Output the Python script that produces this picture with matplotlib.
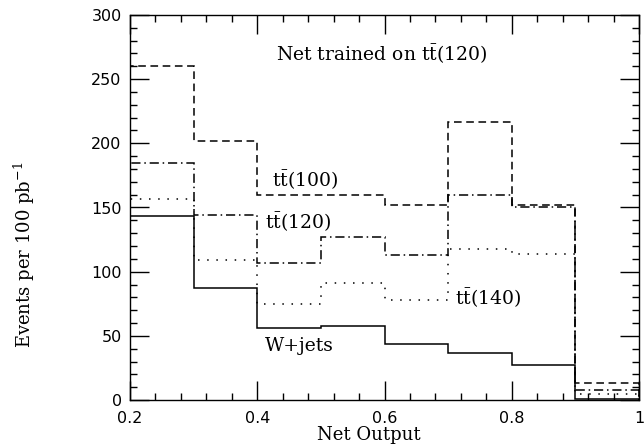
import matplotlib
matplotlib.use("Agg")
import matplotlib.pyplot as plt
from matplotlib.ticker import MultipleLocator, FixedLocator, FixedFormatter

plt.rcParams['mathtext.fontset'] = 'dejavuserif'

# ================= DADOS =================
edges = [0.2, 0.3, 0.4, 0.5, 0.6, 0.7, 0.8, 0.9, 1.0]
tt100 = [260, 202, 160, 160, 152, 217, 152, 13]
tt120 = [185, 144, 107, 127, 113, 160, 150, 8]
tt140 = [157, 109, 75, 91, 78, 118, 114, 5]
wjets = [143, 87, 56, 58, 44, 37, 27, 1]

xticks = [0.2, 0.4, 0.6, 0.8, 1.0]
xticklabels = ["0.2", "0.4", "0.6", "0.8", "1"]

# ================= FIGURA =================
fig = plt.figure(figsize=(6.44, 4.48), dpi=100)
ax = fig.add_axes([130/644, 1-400/448, 509/644, 385/448])

lw = 1.1
ax.stairs(tt100, edges, color='k', lw=lw, linestyle=(0, (5, 3)))
ax.stairs(tt120, edges, color='k', lw=lw, linestyle=(0, (6, 2.5, 1, 2.5)))
ax.stairs(tt140, edges, color='k', lw=lw, linestyle=(0, (1, 5)))
ax.stairs(wjets, edges, color='k', lw=lw, linestyle='-')

ax.set_xlim(0.2, 1.0)
ax.set_ylim(0, 300)

ax.xaxis.set_major_locator(FixedLocator(xticks))
ax.xaxis.set_major_formatter(FixedFormatter(xticklabels))
ax.xaxis.set_minor_locator(MultipleLocator(0.04))
ax.yaxis.set_major_locator(MultipleLocator(50))
ax.yaxis.set_minor_locator(MultipleLocator(10))
ax.tick_params(which='both', direction='in', top=True, right=True, width=1.0)
ax.tick_params(which='major', length=14, labelsize=11.5)
ax.tick_params(axis='x', which='major', pad=8)
ax.tick_params(axis='y', which='major', pad=6)
ax.tick_params(which='minor', length=5)
for lab in ax.get_xticklabels() + ax.get_yticklabels():
    lab.set_family('DejaVu Sans')
for s in ax.spines.values():
    s.set_linewidth(1.0)

serif = 'DejaVu Serif'
ax.set_xlabel("Net Output", family=serif, fontsize=13)
ax.set_ylabel(r"Events per 100 pb$^{-1}$", family=serif, fontsize=13)
ax.xaxis.set_label_coords(0.47, -0.068)
ax.yaxis.set_label_coords(-0.183, 0.377)

fs = 13.5
ax.text(0.43, 269, r"Net trained on t$\bar{\rm t}$(120)", family=serif, fontsize=fs, va='center')
ax.text(0.423, 171, r"t$\bar{\rm t}$(100)", family=serif, fontsize=fs, va='center')
ax.text(0.412, 138, r"t$\bar{\rm t}$(120)", family=serif, fontsize=fs, va='center')
ax.text(0.711, 79, r"t$\bar{\rm t}$(140)", family=serif, fontsize=fs, va='center')
ax.text(0.412, 42, "W+jets", family=serif, fontsize=fs, va='center')

fig.savefig("out.png", dpi=100)
